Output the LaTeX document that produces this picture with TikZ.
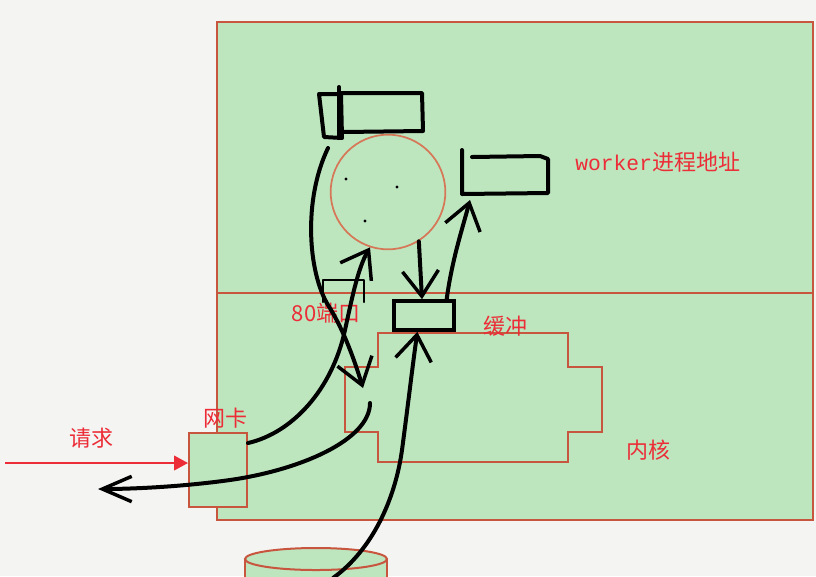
\documentclass[tikz,border=0pt]{standalone}
\usepackage{fontspec}
\newfontfamily\cjk{Noto Sans CJK SC}
\newfontfamily\monofnt{Liberation Mono}
\usetikzlibrary{arrows.meta}
\definecolor{bgc}{RGB}{244,244,242}
\definecolor{gfill}{RGB}{189,230,191}
\definecolor{edgec}{RGB}{200,85,62}
\definecolor{circc}{RGB}{214,120,88}
\definecolor{lblc}{RGB}{236,45,55}
\tikzset{
  outline/.style={draw=edgec, line width=1.5pt},
  hand/.style={draw=black, line width=3pt, line cap=round, line join=round},
  thinhand/.style={draw=black, line width=1.6pt, line cap=round, line join=round},
  barb/.style={-{Straight Barb[length=19pt,width=27pt,line width=2.6pt]}},
  lbl/.style={text=lblc, font=\cjk\fontsize{16.5}{18}\selectfont, inner sep=0pt},
}
\begin{document}
\begin{tikzpicture}[x=0.75pt,y=-0.75pt]
\fill[bgc] (0,0) rectangle (816,576);
\useasboundingbox (0,0) rectangle (816,576);

% host box with two zones
\path[outline, fill=gfill] (217,22) rectangle (813,520);
\coordinate (divL) at (217,293);
\coordinate (divR) at (813,293);
\draw[outline] (divL) -- (divR);

% kernel shape
\draw[outline] (378,333) -- (568,333) -- (568,367) -- (602,367) -- (602,432)
  -- (568,432) -- (568,462) -- (378,462) -- (378,432) -- (345,432)
  -- (345,367) -- (378,367) -- cycle;

% disk (cylinder) at the bottom
\fill[gfill] (245,559) rectangle (387,585);
\draw[outline] (245,559) -- (245,585);
\draw[outline] (387,559) -- (387,585);
\path[outline, fill=gfill] (316,559) ellipse [x radius=71, y radius=11];

% process circle
\node[circle, draw=circc, line width=1.3pt, minimum size=86pt, inner sep=0pt] (proc) at (388,192) {};
\fill (346,179) circle[radius=1.6];
\fill (397,187) circle[radius=1.6];
\fill (365,221) circle[radius=1.6];

% sketched box top-left
\draw[hand] (319,94) -- (341,94) -- (342,138) -- (324,137) -- cycle;
\draw[hand] (340,93) -- (422,93) -- (423,131) -- (343,132);
\draw[hand] (339,87) -- (339,138);
\coordinate (tl) at (328,148);

% sketched box right
\draw[hand] (462,150) -- (462,194) -- (548,193) -- (548,159) -- (540,156) -- (472,157);
\coordinate (wk) at (470,200);

% 80 port frame
\draw[thinhand] (323,302) -- (323,280) -- (364,280) -- (364,302);

% buffer box
\node[draw, line width=3pt, minimum width=45pt, minimum height=21.5pt, inner sep=0pt] (buf) at (424,315.5) {};

% network card
\node[outline, fill=gfill, minimum width=43.5pt, minimum height=55.5pt, inner sep=0pt] (nic) at (218,470) {};

% labels
\node[lbl, anchor=west] (wlbl) at (575,162) {{\monofnt\fontsize{16}{18}\selectfont worker}进程地址};
\node[lbl] (plbl) at (326,313) {80端口};
\node[lbl] (blbl) at (505,326) {缓冲};
\node[lbl] (klbl) at (648,450) {内核};
\node[lbl] (nlbl) at (225,418) {网卡};
\node[lbl] (rlbl) at (91,438) {请求};

% request arrow
\coordinate (reqstart) at (5,463);
\draw[draw=lblc, line width=1.5pt, -{Triangle[length=10.5pt,width=11pt]}] (reqstart) -- (nic.west |- reqstart);

% nic -> process
\coordinate (nicout) at (248,443);
\draw[hand, barb] (nicout) .. controls (292,433) and (332,390) .. (345,330)
  .. controls (352,298) and (358,268) .. (proc.-108);

% top-left box -> down to kernel
\coordinate (portin) at (363,388);
\draw[hand, barb] (tl) .. controls (303,200) and (308,272) .. (328,305)
  .. controls (344,330) and (355,362) .. (portin);

% process -> buffer
\draw[hand, barb] (proc.-58) -- ([xshift=-1.5pt]buf.north);

% buffer -> worker address
\draw[hand, barb] ([xshift=17pt]buf.north) .. controls (452,260) and (462,230) .. (wk);

% disk -> buffer
\coordinate (dsk) at (333,578);
\draw[hand, barb] (dsk) .. controls (372,550) and (395,500) .. (402,450)
  .. controls (408,405) and (412,370) .. ([xshift=-5pt]buf.south);

% response going out
\coordinate (retstart) at (370,403);
\coordinate (retend) at (98,489);
\draw[hand, -{Straight Barb[length=22pt,width=19pt,line width=2.6pt]}] (retstart)
  .. controls (370,440) and (300,470) .. (230,480)
  .. controls (180,487) and (130,489) .. (retend);
\end{tikzpicture}
\end{document}
